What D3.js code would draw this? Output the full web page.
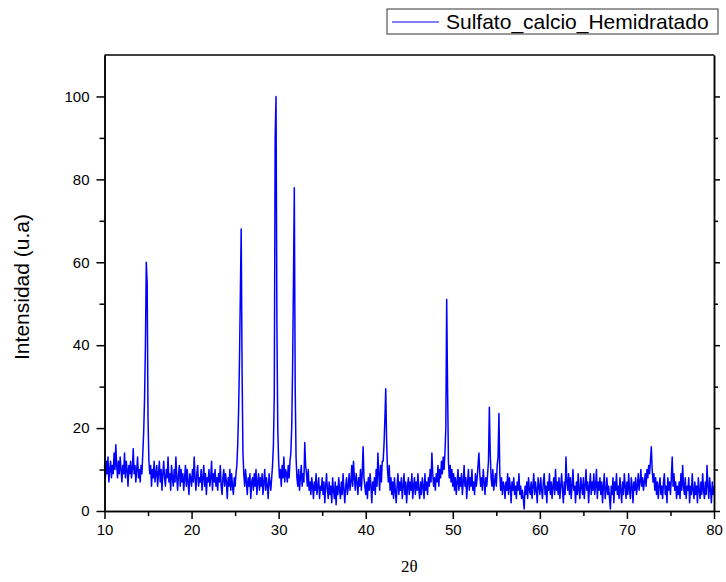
<!DOCTYPE html>
<html>
<head>
<meta charset="utf-8">
<script src="https://cdn.jsdelivr.net/npm/d3@7"></script>
<style>
  body { margin: 0; background: #fff; }
  .axis text { font-family: "Liberation Sans", Arial, sans-serif; font-size: 15px; fill: #000; }
  .axis path, .axis line { stroke: #000; stroke-width: 1.5; }
  .xrd { fill: none; stroke: #0000ff; stroke-width: 1.5; stroke-linejoin: round; }
</style>
</head>
<body>
<div id="chart"></div>
<script>
// series name and axis titles
var seriesName = "Sulfato_calcio_Hemidratado";
var xTitle = "2\u03b8";
var yTitle = "Intensidad (u.a)";

// tick values
var xMajorTicks = [10, 20, 30, 40, 50, 60, 70, 80];
var xMinorTicks = [15, 25, 35, 45, 55, 65, 75];
var yMajorTicks = [0, 20, 40, 60, 80, 100];
var yMinorTicks = [10, 30, 50, 70, 90];

// 2theta grid: from 10 to 80 in steps of 0.1 deg
var twoThetaStart = 10;
var twoThetaStep = 0.1;

var intensity = [
  11, 8, 12, 9, 13, 7, 10, 12, 8, 11,          // 10
  9, 14, 10, 16, 11, 8, 12, 9, 13, 10,         // 11
  7, 11, 9, 14, 8, 12, 10, 6, 11, 9,           // 12
  12, 8, 10, 15, 9, 11, 7, 10, 13, 8,          // 13
  10, 7, 11, 9, 14, 19, 27, 40, 60, 55,        // 14
  22, 12, 9, 11, 6, 10, 8, 12, 7, 9,           // 15
  11, 6, 9, 12, 7, 10, 5, 9, 12, 8,            // 16
  6, 10, 8, 13, 7, 9, 5, 11, 8, 6,             // 17
  10, 7, 13, 8, 5, 9, 11, 6, 10, 7,            // 18
  9, 5, 8, 11, 6, 10, 7, 4, 9, 8,              // 19
  6, 10, 7, 13, 8, 5, 9, 11, 6, 8,             // 20
  7, 10, 5, 8, 11, 6, 9, 4, 8, 7,              // 21
  10, 6, 8, 12, 5, 9, 7, 10, 6, 8,             // 22
  5, 9, 7, 11, 6, 4, 8, 10, 6, 9,              // 23
  7, 3, 8, 6, 10, 5, 9, 6, 4, 8,               // 24
  6, 9, 11, 16, 24, 36, 52, 68, 34, 14,        // 25
  9, 6, 10, 7, 4, 8, 6, 9, 3, 7,               // 26
  8, 5, 9, 6, 10, 4, 7, 9, 5, 8,               // 27
  6, 9, 4, 7, 10, 5, 8, 6, 3, 9,               // 28
  7, 5, 8, 11, 16, 28, 90, 100, 45, 20,        // 29
  12, 8, 10, 6, 11, 8, 13, 7, 10, 9,           // 30
  7, 11, 8, 12, 14, 20, 34, 55, 78, 30,        // 31
  13, 8, 6, 10, 5, 8, 11, 6, 9, 7,             // 32
  16.5, 11, 9, 6, 10, 5, 7, 4, 8, 6,           // 33
  3, 7, 5, 9, 4, 6, 8, 3, 6, 5,                // 34
  8, 4, 7, 2, 6, 9, 5, 3, 7, 4,                // 35
  6, 2, 8, 5, 3, 7, 1.5, 6, 4, 8,              // 36
  5, 3, 7, 4, 9, 5, 2, 6, 8, 4,                // 37
  6, 9, 5, 7, 11, 6, 12, 8, 5, 9,              // 38
  7, 4, 8, 6, 10, 5, 9, 15.5, 8, 6,            // 39
  4, 7, 3, 8, 5, 9, 6, 2, 7, 5,                // 40
  8, 4, 10, 6, 14, 9, 5, 11, 7, 12,            // 41
  12, 16, 22, 29.5, 17, 10, 7, 11, 5, 8,       // 42
  4, 7, 3, 8, 5, 2, 6, 9, 4, 7,                // 43
  5, 8, 3, 6, 9, 4, 7, 2, 6, 8,                // 44
  4, 7, 5, 9, 3, 6, 8, 4, 7, 5,                // 45
  9, 5, 3, 7, 4, 8, 6, 3, 9, 5,                // 46
  7, 4, 8, 6, 10, 7, 14, 9, 6, 8,              // 47
  5, 9, 7, 11, 6, 10, 8, 12, 9, 13,            // 48
  10, 14, 20, 51, 30, 12, 8, 11, 7, 10,        // 49
  6, 9, 5, 8, 4, 7, 10, 5, 8, 6,               // 50
  9, 4, 7, 11, 6, 8, 3, 7, 10, 5,              // 51
  8, 6, 10, 5, 7, 4, 9, 6, 8, 11,              // 52
  14, 9, 6, 8, 5, 10, 7, 4, 8, 6,              // 53
  9, 12, 25, 14, 8, 6, 10, 5, 7, 9,            // 54
  6, 11, 13, 23.5, 9, 5, 8, 4, 7, 6,           // 55
  3, 7, 5, 9, 4, 8, 6, 2, 7, 5,                // 56
  8, 4, 6, 3, 7, 5, 9, 4, 6, 3,                // 57
  5, 3, 0.5, 6, 4, 7, 3, 8, 5, 4,              // 58
  7, 3, 6, 9, 4, 7, 5, 2, 8, 6,                // 59
  4, 8, 5, 3, 7, 9, 4, 6, 2, 7,                // 60
  5, 9, 4, 7, 3, 6, 8, 4, 10, 5,               // 61
  7, 4, 8, 3, 6, 9, 5, 2, 7, 4,                // 62
  13, 7, 5, 9, 4, 8, 3, 6, 10, 5,              // 63
  6, 2, 7, 4, 9, 5, 3, 8, 6, 4,                // 64
  8, 3, 6, 10, 5, 7, 2, 6, 9, 4,               // 65
  7, 5, 9, 4, 6, 10, 3, 7, 5, 8,               // 66
  4, 7, 2, 6, 9, 3, 5, 8, 4, 6,                // 67
  3, 0.5, 6, 4, 8, 2, 7, 5, 9, 4,              // 68
  6, 3, 8, 5, 2, 7, 4, 9, 6, 3,                // 69
  7, 4, 9, 5, 3, 8, 6, 2, 7, 5,                // 70
  8, 4, 6, 9, 5, 7, 10, 6, 8, 5,               // 71
  7, 9, 6, 10, 8, 11, 9, 12, 15.5, 10,         // 72
  7, 9, 5, 8, 4, 7, 3, 6, 8, 4,                // 73
  6, 3, 7, 9, 4, 6, 2, 8, 5, 7,                // 74
  4, 8, 13, 6, 9, 5, 7, 3, 6, 4,               // 75
  7, 3, 9, 5, 11, 6, 4, 8, 3, 6,               // 76
  5, 8, 2, 6, 4, 9, 5, 3, 7, 4,                // 77
  6, 2, 8, 5, 3, 7, 4, 9, 5, 3,                // 78
  7, 4, 11, 6, 3, 8, 5, 2, 7, 4,               // 79
  6                                            // 80
];

var pattern = intensity.map(function(v, i) {
    return { x: +(twoThetaStart + i * twoThetaStep).toFixed(1), y: v };
});

var margin = {top: 55, right: 12, bottom: 71, left: 104.5},
    width = 726 - margin.left - margin.right,
    height = 582 - margin.top - margin.bottom;

var xScale = d3.scaleLinear()
    .domain([10, 80])
    .range([0, width]);

var yScale = d3.scaleLinear()
    .domain([0, 110])
    .range([height, 0]);

var line = d3.line()
    .x(function(d) { return xScale(d.x); })
    .y(function(d) { return yScale(d.y); });

var svg = d3.select("#chart")
    .append("svg")
    .attr("width", 726)
    .attr("height", 582);

var g = svg.append("g")
    .attr("transform", "translate(" + margin.left + "," + margin.top + ")");

// data line
g.append("path")
    .datum(pattern)
    .attr("class", "xrd")
    .attr("d", line);

// bottom axis, major + minor
g.append("g")
    .attr("class", "x axis")
    .attr("transform", "translate(0," + height + ")")
    .call(d3.axisBottom(xScale).tickValues(xMajorTicks).tickSize(8).tickPadding(5).tickSizeOuter(0));

g.append("g")
    .attr("class", "x axis minor")
    .attr("transform", "translate(0," + height + ")")
    .call(d3.axisBottom(xScale).tickValues(xMinorTicks).tickSize(5).tickFormat("").tickSizeOuter(0));

// left axis, major + minor
g.append("g")
    .attr("class", "y axis")
    .call(d3.axisLeft(yScale).tickValues(yMajorTicks).tickSize(8).tickPadding(7).tickSizeOuter(0));

g.append("g")
    .attr("class", "y axis minor")
    .call(d3.axisLeft(yScale).tickValues(yMinorTicks).tickSize(5).tickFormat("").tickSizeOuter(0));

// right axis, ticks only
g.append("g")
    .attr("class", "y axis right")
    .attr("transform", "translate(" + width + ",0)")
    .call(d3.axisRight(yScale).tickValues(yMajorTicks).tickSize(6).tickFormat("").tickSizeOuter(0));

g.append("g")
    .attr("class", "y axis right")
    .attr("transform", "translate(" + width + ",0)")
    .call(d3.axisRight(yScale).tickValues(yMinorTicks).tickSize(4).tickFormat("").tickSizeOuter(0));

// top frame line
g.append("line")
    .attr("x1", 0).attr("x2", width)
    .attr("y1", 0).attr("y2", 0)
    .attr("stroke", "#000")
    .attr("stroke-width", 1.5);

// axis titles
g.append("text")
    .attr("x", width / 2)
    .attr("y", height + 61)
    .attr("text-anchor", "middle")
    .style("font-family", "'Liberation Serif', 'Times New Roman', serif")
    .style("font-size", "17px")
    .text(xTitle);

g.append("text")
    .attr("transform", "translate(" + (-76) + "," + (height / 2 + 4) + ") rotate(-90)")
    .attr("text-anchor", "middle")
    .style("font-family", "'Liberation Sans', Arial, sans-serif")
    .style("font-size", "21px")
    .text(yTitle);

// legend
var legend = svg.append("g").attr("transform", "translate(387,9)");

legend.append("rect")
    .attr("width", 331)
    .attr("height", 25)
    .attr("fill", "#fff")
    .attr("stroke", "#333")
    .attr("stroke-width", 1);

legend.append("line")
    .attr("x1", 5).attr("x2", 52)
    .attr("y1", 13).attr("y2", 13)
    .attr("stroke", "#0000ff")
    .attr("stroke-width", 1);

legend.append("text")
    .attr("x", 59)
    .attr("y", 20)
    .style("font-family", "'Liberation Sans', Arial, sans-serif")
    .style("font-size", "21px")
    .text(seriesName);
</script>
</body>
</html>
